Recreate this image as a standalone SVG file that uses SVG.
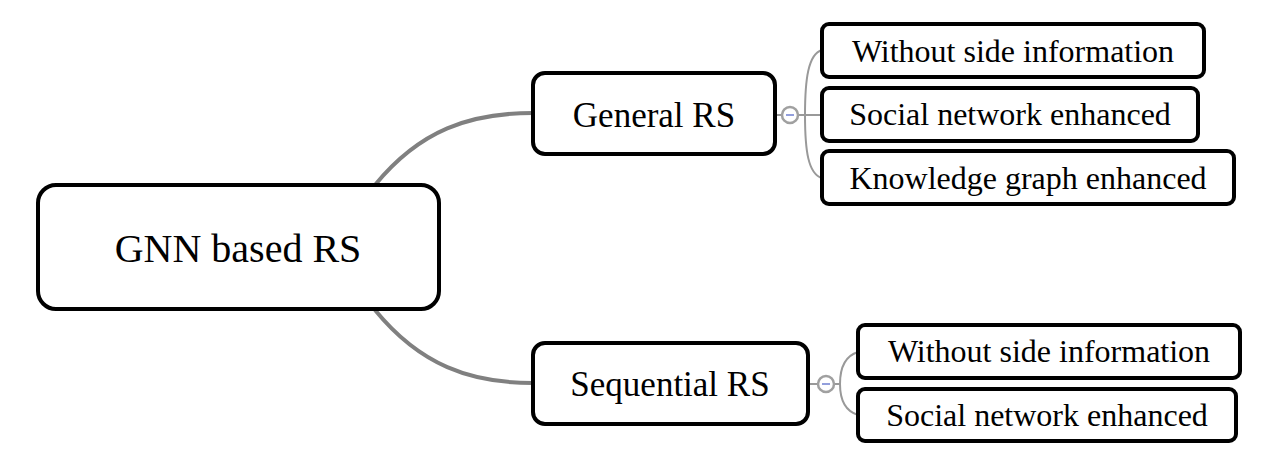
<svg xmlns="http://www.w3.org/2000/svg" width="1280" height="466" viewBox="0 0 1280 466">
<style>
.box{fill:#fff;stroke:#000;stroke-width:4}
.t{font-family:"Liberation Serif","Times New Roman",serif;fill:#000;text-anchor:middle}
.main{stroke:#808080;stroke-width:4;fill:none}
.sub{stroke:#999;stroke-width:2;fill:none}
.tog{fill:#fff;stroke:#a0a0a0;stroke-width:2.5}
.minus{stroke:#6f7fd0;stroke-width:1.5}
</style>
<rect width="1280" height="466" fill="#fff"/>
<g id="connectors">
<path class="main" d="M375,185 C420,130 470,113 533,113"/>
<path class="main" d="M375,310 C420,365 470,383 533,383"/>
<path class="sub" d="M775,115 L782,115"/>
<path class="sub" d="M798,115 L822,115"/>
<path class="sub" d="M822,50 C808,54 805,80 805,115 C805,150 808,174 822,178"/>
<path class="sub" d="M808,384 L818,384"/>
<path class="sub" d="M834,384 L840,384"/>
<path class="sub" d="M858,352 C845,356 840,368 840,384 C840,400 845,411 858,415"/>
</g>
<g id="n-root">
<rect class="box" x="38" y="185" width="401" height="124" rx="18"/>
<text class="t" x="238" y="262" font-size="40">GNN based RS</text>
</g>
<g id="n-general">
<rect class="box" x="533" y="73" width="242" height="81" rx="12"/>
<text class="t" x="654" y="127" font-size="35">General RS</text>
<circle class="tog" cx="790" cy="115" r="8"/>
<line class="minus" x1="786" y1="115" x2="794" y2="115"/>
</g>
<g id="n-sequential">
<rect class="box" x="533" y="343" width="275" height="81" rx="12"/>
<text class="t" x="670" y="396" font-size="35">Sequential RS</text>
<circle class="tog" cx="826" cy="384" r="8"/>
<line class="minus" x1="822" y1="384" x2="830" y2="384"/>
</g>
<g id="n-g1">
<rect class="box" x="822" y="24" width="382" height="53" rx="7"/>
<text class="t" x="1013" y="62" font-size="32">Without side information</text>
</g>
<g id="n-g2">
<rect class="box" x="822" y="88" width="376" height="53" rx="7"/>
<text class="t" x="1010" y="125" font-size="32">Social network enhanced</text>
</g>
<g id="n-g3">
<rect class="box" x="822" y="151" width="412" height="53" rx="7"/>
<text class="t" x="1028" y="189" font-size="32">Knowledge graph enhanced</text>
</g>
<g id="n-s1">
<rect class="box" x="858" y="325" width="382" height="53" rx="7"/>
<text class="t" x="1049" y="362" font-size="32">Without side information</text>
</g>
<g id="n-s2">
<rect class="box" x="858" y="389" width="378" height="52" rx="7"/>
<text class="t" x="1047" y="426" font-size="32">Social network enhanced</text>
</g>
</svg>
